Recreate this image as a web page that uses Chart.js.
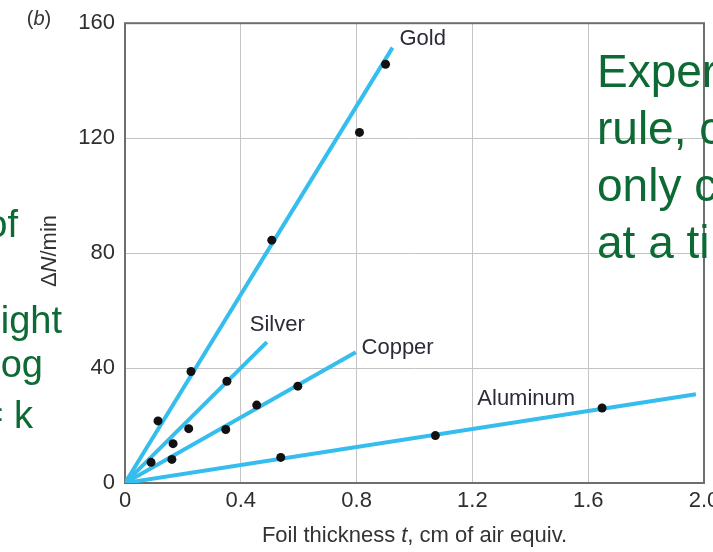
<!DOCTYPE html>
<html>
<head>
<meta charset="utf-8">
<script src="https://cdn.jsdelivr.net/npm/chart.js@4.4.1/dist/chart.umd.min.js"></script>
<style>
  html, body { margin:0; padding:0; background:#fff; overflow:hidden; width:713px; height:552px; }
  #wrap { position:absolute; left:0; top:0; width:760px; height:552px; }
  .green { position:absolute; color:#0d6a34; font-family:"Liberation Sans", Arial, sans-serif; white-space:nowrap; }
  #left { position:absolute; left:0; top:0; width:0; height:0; }
  #left .green { font-size:38px; line-height:38px; }
  #right { left:597px; top:43px; font-size:46px; line-height:57px; }
</style>
</head>
<body>
<div id="wrap"><canvas id="grafico" width="760" height="552"></canvas></div>
<div id="left">
  <div class="green" style="right:-18px; top:205px;">of</div>
  <div class="green" style="right:-62px; top:301px;">hight</div>
  <div class="green" style="right:-43px; top:345px;">og</div>
  <div class="green" style="right:-33px; top:396px;">= k</div>
</div>
<div class="green" id="right">Exper<br>rule, c<br>only c<br>at a ti</div>
<script>
// foil thickness t (cm of air equiv.) and counting rate dN/min
const goldT = [0.114, 0.228, 0.507, 0.81, 0.90];
const goldN = [21.6, 38.8, 84.5, 122, 145.7];
const silverT = [0.09, 0.166, 0.22, 0.352];
const silverN = [7.2, 13.7, 18.9, 35.4];
const copperT = [0.162, 0.348, 0.455, 0.597];
const copperN = [8.2, 18.6, 27.1, 33.7];
const aluT = [0.538, 1.072, 1.648];
const aluN = [8.9, 16.5, 26.1];

// fitted lines run from the origin to these ends
const fitNames = ['Gold', 'Silver', 'Copper', 'Aluminum'];
const fitEndT = [0.924, 0.49, 0.797, 1.972];
const fitEndN = [151.5, 49, 45.5, 30.9];
// where each name sits (data units, left/middle of text)
const nameT = [0.948, 0.431, 0.817, 1.217];
const nameN = [154.6, 55, 47, 29.2];

const xTicks = [0, 0.4, 0.8, 1.2, 1.6, 2.0];
const yTicks = [0, 40, 80, 120, 160];

const FONT = '"Liberation Sans", Arial, sans-serif';
const CYAN = '#35bdee';

function pts(xs, ys) { return xs.map((v, i) => ({x: v, y: ys[i]})); }

function drawRuns(ctx, runs, cx, cy, size) {
  const fonts = runs.map(r => (r[1] ? 'italic ' : '') + size + 'px ' + FONT);
  let w = 0;
  runs.forEach((r, i) => { ctx.font = fonts[i]; w += ctx.measureText(r[0]).width; });
  let x = cx - w / 2;
  runs.forEach((r, i) => { ctx.font = fonts[i]; ctx.fillText(r[0], x, cy); x += ctx.measureText(r[0]).width; });
}

const extras = {
  id: 'extras',
  beforeDatasetsDraw(chart) {
    const {ctx, chartArea: a} = chart;
    ctx.save();
    ctx.strokeStyle = '#6e6e6e';
    ctx.lineWidth = 2;
    ctx.strokeRect(a.left, a.top, a.right - a.left, a.bottom - a.top);
    ctx.restore();
  },
  afterDraw(chart) {
    const ctx = chart.ctx;
    const sx = chart.scales.x, sy = chart.scales.y;
    ctx.save();
    ctx.textAlign = 'left';
    ctx.textBaseline = 'middle';
    ctx.fillStyle = '#2c2b38';
    ctx.font = '22px ' + FONT;
    fitNames.forEach((n, i) => {
      ctx.fillText(n, sx.getPixelForValue(nameT[i]), sy.getPixelForValue(nameN[i]));
    });
    ctx.fillStyle = '#333';
    drawRuns(ctx, [['Foil thickness ', false], ['t', true], [', cm of air equiv.', false]],
      (chart.chartArea.left + chart.chartArea.right) / 2, 536, 22);
    drawRuns(ctx, [['(', false], ['b', true], [')', false]], 39, 19, 20);
    ctx.translate(50, 251);
    ctx.rotate(-Math.PI / 2);
    drawRuns(ctx, [['\u0394', false], ['N', true], ['/min', false]], 0, 0, 22);
    ctx.restore();
  }
};

const lineSets = fitNames.map((n, i) => ({
  label: n + ' fit',
  data: [{x: 0, y: 0}, {x: fitEndT[i], y: fitEndN[i]}],
  showLine: true,
  borderColor: CYAN,
  borderWidth: 4,
  pointRadius: 0,
  order: 2
}));

const dotStyle = {backgroundColor: '#111', borderColor: '#111', pointRadius: 4.5, borderWidth: 0, order: 1};
const dotSets = [
  Object.assign({label: 'Gold', data: pts(goldT, goldN)}, dotStyle),
  Object.assign({label: 'Silver', data: pts(silverT, silverN)}, dotStyle),
  Object.assign({label: 'Copper', data: pts(copperT, copperN)}, dotStyle),
  Object.assign({label: 'Aluminum', data: pts(aluT, aluN)}, dotStyle)
];

const grafico = document.querySelector('#grafico');
new Chart(grafico, {
  type: 'scatter',
  data: { datasets: lineSets.concat(dotSets) },
  options: {
    responsive: false,
    animation: false,
    devicePixelRatio: 1,
    layout: { padding: { left: 0, top: 18, right: 56, bottom: 0 } },
    plugins: { legend: { display: false }, tooltip: { enabled: false } },
    scales: {
      x: {
        type: 'linear', min: 0, max: 2,
        afterBuildTicks: s => { s.ticks = xTicks.map(v => ({value: v})); },
        afterFit: s => { s.height = 69; },
        ticks: {
          color: '#2e2e2e', padding: 5, maxRotation: 0,
          font: { family: FONT, size: 22 },
          callback: v => v === 0 ? '0' : v.toFixed(1)
        },
        grid: { color: '#c4c4c4', lineWidth: 1, drawTicks: false },
        border: { display: false }
      },
      y: {
        type: 'linear', min: 0, max: 160,
        afterBuildTicks: s => { s.ticks = yTicks.map(v => ({value: v})); },
        afterFit: s => { s.width = 125; },
        ticks: {
          color: '#2e2e2e', padding: 10,
          font: { family: FONT, size: 22 }
        },
        grid: { color: '#c4c4c4', lineWidth: 1, drawTicks: false },
        border: { display: false }
      }
    }
  },
  plugins: [extras]
});
</script>
</body>
</html>
